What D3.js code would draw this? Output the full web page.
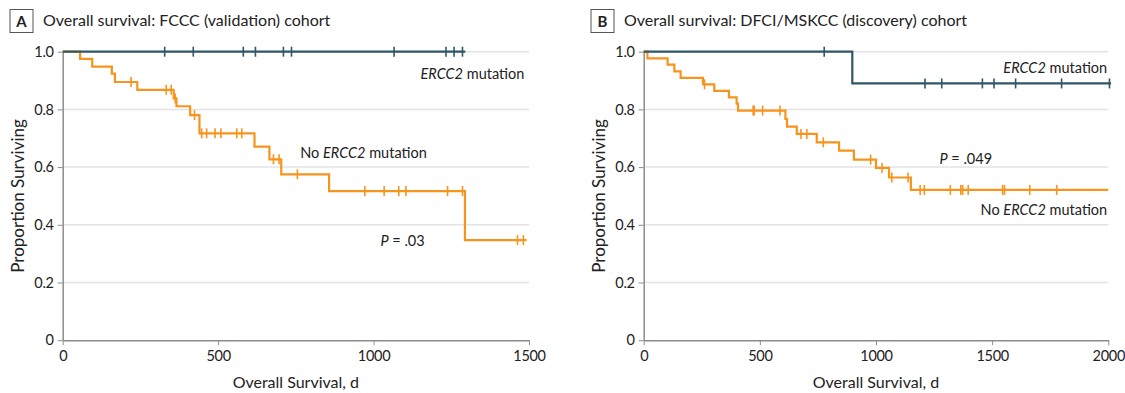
<!DOCTYPE html>
<html>
<head>
<meta charset="utf-8">
<script src="https://cdnjs.cloudflare.com/ajax/libs/d3/7.8.5/d3.min.js"></script>
<style>
  body { margin: 0; background: #fff; }
  svg text { font-family: Lato, "Noto Sans", sans-serif; fill: #222; }
  .axis path, .axis line { stroke: #8c8c8c; }
  .axis text { font-size: 14.5px; letter-spacing: -0.3px; fill: #222; }
</style>
</head>
<body>
<div class="chart"></div>
<script>
// ---- data ----
var yTicks = [0, 0.2, 0.4, 0.6, 0.8, 1.0];

// panel A: FCCC (validation) cohort
var aTicks = [0, 500, 1000, 1500];
var aMutTimes = [];
var aMutSurv = [];
var aMutCensor = [328, 420, 581, 620, 710, 736, 1066, 1233, 1259, 1286];
var aMutEnd = 1295;
var aNoTimes = [56, 95, 158, 168, 240, 357, 366, 410, 440, 617, 665, 703, 857, 1294];
var aNoSurv = [0.975, 0.948, 0.924, 0.895, 0.868, 0.838, 0.811, 0.780, 0.717, 0.671, 0.627, 0.575, 0.517, 0.347];
var aNoCensor = [220, 333, 349, 362, 424, 447, 463, 490, 509, 560, 576, 678, 696, 755,
                 972, 1034, 1081, 1104, 1238, 1286, 1463, 1482];
var aNoEnd = 1492;

// panel B: DFCI/MSKCC (discovery) cohort
var bTicks = [0, 500, 1000, 1500, 2000];
var bMutTimes = [898];
var bMutSurv = [0.890];
var bMutCensor = [777, 1211, 1283, 1458, 1508, 1601, 1799, 2005];
var bMutEnd = 2012;
var bNoTimes = [16, 103, 132, 159, 255, 304, 367, 400, 406, 610, 617, 659, 745, 841, 905, 1000, 1056, 1150];
var bNoSurv = [0.977, 0.955, 0.932, 0.909, 0.887, 0.864, 0.842, 0.820, 0.796, 0.767, 0.740,
               0.715, 0.686, 0.657, 0.626, 0.597, 0.564, 0.521];
var bNoCensor = [262, 471, 476, 512, 587, 677, 702, 773, 977, 1026, 1068, 1138, 1190, 1208,
                 1320, 1365, 1373, 1397, 1545, 1553, 1662, 1778];
var bNoEnd = 2000;

var teal = "#2f5766", orange = "#f7941d";

var svg = d3.select(".chart").append("svg")
    .attr("width", 1125)
    .attr("height", 393);

function survAt(times, surv, t) {
  var i = d3.bisectRight(times, t);
  return i == 0 ? 1 : surv[i - 1];
}

function drawPanel(p) {
  var x = d3.scaleLinear().domain([0, p.xMax]).range([p.left, p.right]);
  var y = d3.scaleLinear().domain([0, 1]).range([340.2, 51.7]);

  // title with letter box
  svg.append("rect")
      .attr("x", p.boxX).attr("y", 9.5)
      .attr("width", 23).attr("height", 23)
      .attr("fill", "none").attr("stroke", "#555").attr("stroke-width", 1);
  svg.append("text")
      .attr("x", p.boxX + 11.5).attr("y", 26.5)
      .attr("text-anchor", "middle")
      .style("font-size", "15px").style("font-weight", "bold")
      .text(p.letter);
  svg.append("text")
      .attr("x", p.boxX + 33).attr("y", 25.5)
      .style("font-size", "16px")
      .text(p.title);

  // grid
  svg.append("g").selectAll("line")
      .data(yTicks.filter(function(d){ return d > 0; }))
      .enter().append("line")
      .attr("x1", p.left).attr("x2", p.right)
      .attr("y1", function(d){ return y(d); })
      .attr("y2", function(d){ return y(d); })
      .attr("stroke", "#e3e3e3").attr("stroke-width", 1.5);

  var xAxis = d3.axisBottom(x).tickValues(p.ticks).tickSize(5).tickPadding(6).tickSizeOuter(0)
      .tickFormat(d3.format("d"));
  var yAxis = d3.axisLeft(y).tickValues(yTicks).tickSize(5).tickPadding(4).tickSizeOuter(0)
      .tickFormat(function(d){ return d == 0 ? "0" : d3.format(".1f")(d); });

  svg.append("g").attr("class", "axis")
      .attr("transform", "translate(0," + y(0) + ")")
      .call(xAxis);
  svg.append("g").attr("class", "axis")
      .attr("transform", "translate(" + p.left + ",0)")
      .call(yAxis);
  svg.selectAll(".axis .domain").attr("stroke-width", 1.5);

  svg.append("text")
      .attr("x", (p.left + p.right) / 2).attr("y", 388)
      .attr("text-anchor", "middle")
      .style("font-size", "16px")
      .text("Overall Survival, d");
  svg.append("text")
      .attr("transform", "translate(" + (p.left - 39) + "," + y(0.5) + ") rotate(-90)")
      .attr("text-anchor", "middle")
      .style("font-size", "17px")
      .text("Proportion Surviving");

  var line = d3.line()
      .x(function(d){ return x(d[0]); })
      .y(function(d){ return y(d[1]); })
      .curve(d3.curveStepAfter);

  p.series.forEach(function(s) {
    var pts = [[0, 1]];
    s.times.forEach(function(t, i){ pts.push([t, s.surv[i]]); });
    pts.push([s.end, s.surv.length ? s.surv[s.surv.length - 1] : 1]);

    svg.append("path")
        .datum(pts)
        .attr("d", line)
        .attr("fill", "none")
        .attr("stroke", s.color)
        .attr("stroke-width", 2.2);

    svg.append("g").selectAll("line")
        .data(s.censor)
        .enter().append("line")
        .attr("x1", function(d){ return x(d); })
        .attr("x2", function(d){ return x(d); })
        .attr("y1", function(d){ return y(survAt(s.times, s.surv, d)) - 5; })
        .attr("y2", function(d){ return y(survAt(s.times, s.surv, d)) + 5; })
        .attr("stroke", s.color)
        .attr("stroke-width", 1.6);
  });

  // annotations
  p.notes.forEach(function(n) {
    var t = svg.append("text")
        .attr("x", x(n.x)).attr("y", y(n.y))
        .attr("text-anchor", n.anchor)
        .style("font-size", "14.5px");
    n.parts.forEach(function(part) {
      t.append("tspan")
          .style("font-style", part[1] ? "italic" : "normal")
          .text(part[0]);
    });
  });
}

drawPanel({
  letter: "A", boxX: 10, title: "Overall survival: FCCC (validation) cohort",
  left: 62.7, right: 529, xMax: 1500, ticks: aTicks,
  series: [
    {times: aNoTimes, surv: aNoSurv, censor: aNoCensor, end: aNoEnd, color: orange},
    {times: aMutTimes, surv: aMutSurv, censor: aMutCensor, end: aMutEnd, color: teal}
  ],
  notes: [
    {x: 1485, y: 0.905, anchor: "end", parts: [["ERCC2", true], [" mutation", false]]},
    {x: 764, y: 0.63, anchor: "start", parts: [["No ", false], ["ERCC2", true], [" mutation", false]]},
    {x: 1022, y: 0.325, anchor: "start", parts: [["P", true], [" = .03", false]]}
  ]
});

drawPanel({
  letter: "B", boxX: 591, title: "Overall survival: DFCI/MSKCC (discovery) cohort",
  left: 643.7, right: 1108.3, xMax: 2000, ticks: bTicks,
  series: [
    {times: bNoTimes, surv: bNoSurv, censor: bNoCensor, end: bNoEnd, color: orange},
    {times: bMutTimes, surv: bMutSurv, censor: bMutCensor, end: bMutEnd, color: teal}
  ],
  notes: [
    {x: 1995, y: 0.925, anchor: "end", parts: [["ERCC2", true], [" mutation", false]]},
    {x: 1273, y: 0.61, anchor: "start", parts: [["P", true], [" = .049", false]]},
    {x: 1995, y: 0.435, anchor: "end", parts: [["No ", false], ["ERCC2", true], [" mutation", false]]}
  ]
});
</script>
</body>
</html>
